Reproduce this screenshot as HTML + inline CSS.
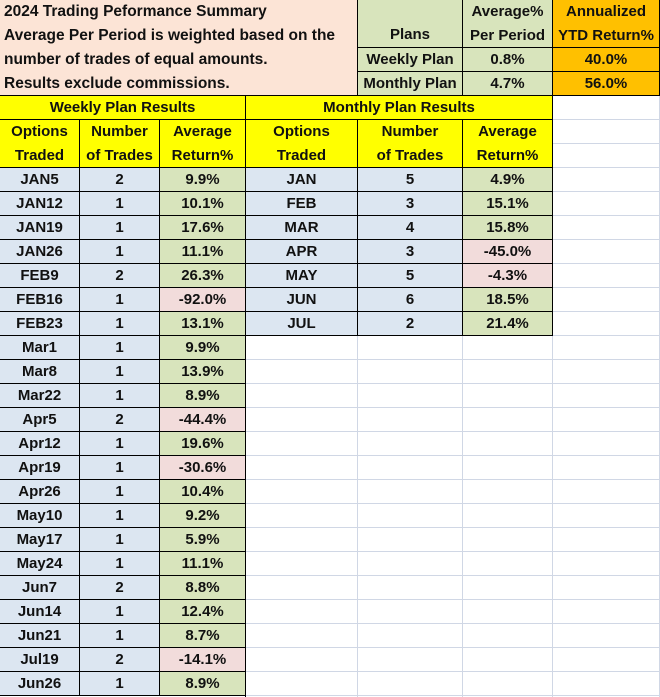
<!DOCTYPE html>
<html><head><meta charset="utf-8">
<style>
html,body{margin:0;padding:0;background:#fff;}
#sheet{position:relative;width:660px;height:697px;overflow:hidden;font-family:"Liberation Sans",Arial,sans-serif;font-weight:bold;font-size:15px;color:#111;}
.c{position:absolute;box-sizing:border-box;display:flex;align-items:center;justify-content:center;text-align:center;line-height:24px;white-space:nowrap;}
.b{border-right:1px solid #000;border-bottom:1px solid #000;}
.g{border-right:1px solid #d0d7e5;border-bottom:1px solid #d0d7e5;}
</style></head><body>
<div id="sheet"></div>
<script>
const weeklyOptions=["JAN5","JAN12","JAN19","JAN26","FEB9","FEB16","FEB23","Mar1","Mar8","Mar22","Apr5","Apr12","Apr19","Apr26","May10","May17","May24","Jun7","Jun14","Jun21","Jul19","Jun26"];
const weeklyTrades=[2,1,1,1,2,1,1,1,1,1,2,1,1,1,1,1,1,2,1,1,2,1];
const weeklyReturns=[9.9,10.1,17.6,11.1,26.3,-92.0,13.1,9.9,13.9,8.9,-44.4,19.6,-30.6,10.4,9.2,5.9,11.1,8.8,12.4,8.7,-14.1,8.9];
const monthlyOptions=["JAN","FEB","MAR","APR","MAY","JUN","JUL"];
const monthlyTrades=[5,3,4,3,5,6,2];
const monthlyReturns=[4.9,15.1,15.8,-45.0,-4.3,18.5,21.4];

const S=document.getElementById('sheet');
const X=[0,80,160,246,358,463,553,660];
function cell(x1,y1,x2,y2,bg,html,cls,name,extra){
  const d=document.createElement('div');
  d.className='c '+(cls||'b');
  d.style.left=x1+'px';d.style.top=y1+'px';
  d.style.width=(x2-x1)+'px';d.style.height=(y2-y1)+'px';
  if(bg)d.style.background=bg;
  if(extra)Object.assign(d.style,extra);
  d.innerHTML=html||'';
  
  
  S.appendChild(d);return d;
}
const PINK='#fce4d6',GREEN='#d8e4bc',ORANGE='#ffc000',YEL='#ffff00',BLUE='#dce6f1',NEG='#f2dcdb';
cell(0,0,358,96,PINK,'<div>2024 Trading Peformance Summary</div><div>Average Per Period is weighted based on the</div><div>number of trades of equal amounts.</div><div>Results exclude commissions.</div>','b','summary-note',{display:'block',textAlign:'left',padding:'0 0 0 4px',fontSize:'15.5px'});
cell(358,0,463,48,GREEN,'Plans','b','plans-header',{alignItems:'flex-end'});
cell(463,0,553,48,GREEN,'<div>Average%<br>Per Period</div>','b','average-per-period-header');
cell(553,0,660,48,ORANGE,'<div>Annualized<br>YTD Return%</div>','b','annualized-header');
cell(358,48,463,72,GREEN,'Weekly Plan','b','weekly-plan-label');
cell(463,48,553,72,GREEN,'0.8%','b','weekly-plan-average');
cell(553,48,660,72,ORANGE,'40.0%','b','weekly-plan-annualized');
cell(358,72,463,96,GREEN,'Monthly Plan','b','monthly-plan-label');
cell(463,72,553,96,GREEN,'4.7%','b','monthly-plan-average');
cell(553,72,660,96,ORANGE,'56.0%','b','monthly-plan-annualized');
cell(0,96,246,120,YEL,'Weekly Plan Results','b','weekly-results-title');
cell(246,96,553,120,YEL,'Monthly Plan Results','b','monthly-results-title');
const hdr=['<div>Options<br>Traded</div>','<div>Number<br>of Trades</div>','<div>Average<br>Return%</div>'];
const hn=['options-traded-header','number-of-trades-header','average-return-header'];
for(let i=0;i<3;i++){
  cell(X[i],120,X[i+1],168,YEL,hdr[i],'b','weekly-'+hn[i]);
  cell(X[i+3],120,X[i+4],168,YEL,hdr[i],'b','monthly-'+hn[i]);
}
for(let y=96;y<697;y+=24) cell(553,y,660,y+24,'#fff','','g','empty-cell');
const fmt=v=>v.toFixed(1)+'%';
weeklyOptions.forEach((o,i)=>{
  const y=168+i*24;
  cell(X[0],y,X[1],y+24,BLUE,o,'b','weekly-option');
  cell(X[1],y,X[2],y+24,BLUE,String(weeklyTrades[i]),'b','weekly-trades');
  cell(X[2],y,X[3],y+24,weeklyReturns[i]<0?NEG:GREEN,fmt(weeklyReturns[i]),'b','weekly-return');
});
monthlyOptions.forEach((o,i)=>{
  const y=168+i*24;
  cell(X[3],y,X[4],y+24,BLUE,o,'b','monthly-option');
  cell(X[4],y,X[5],y+24,BLUE,String(monthlyTrades[i]),'b','monthly-trades');
  cell(X[5],y,X[6],y+24,monthlyReturns[i]<0?NEG:GREEN,fmt(monthlyReturns[i]),'b','monthly-return');
});
for(let y=168+monthlyOptions.length*24;y<697;y+=24){
  for(let c=3;c<6;c++) cell(X[c],y,X[c+1],y+24,'#fff','','g','empty-cell');
}
const e=document.createElement('div');
e.style.cssText='position:absolute;left:245px;top:96px;width:1px;height:601px;background:#000';


S.appendChild(e);
</script>
</body></html>
